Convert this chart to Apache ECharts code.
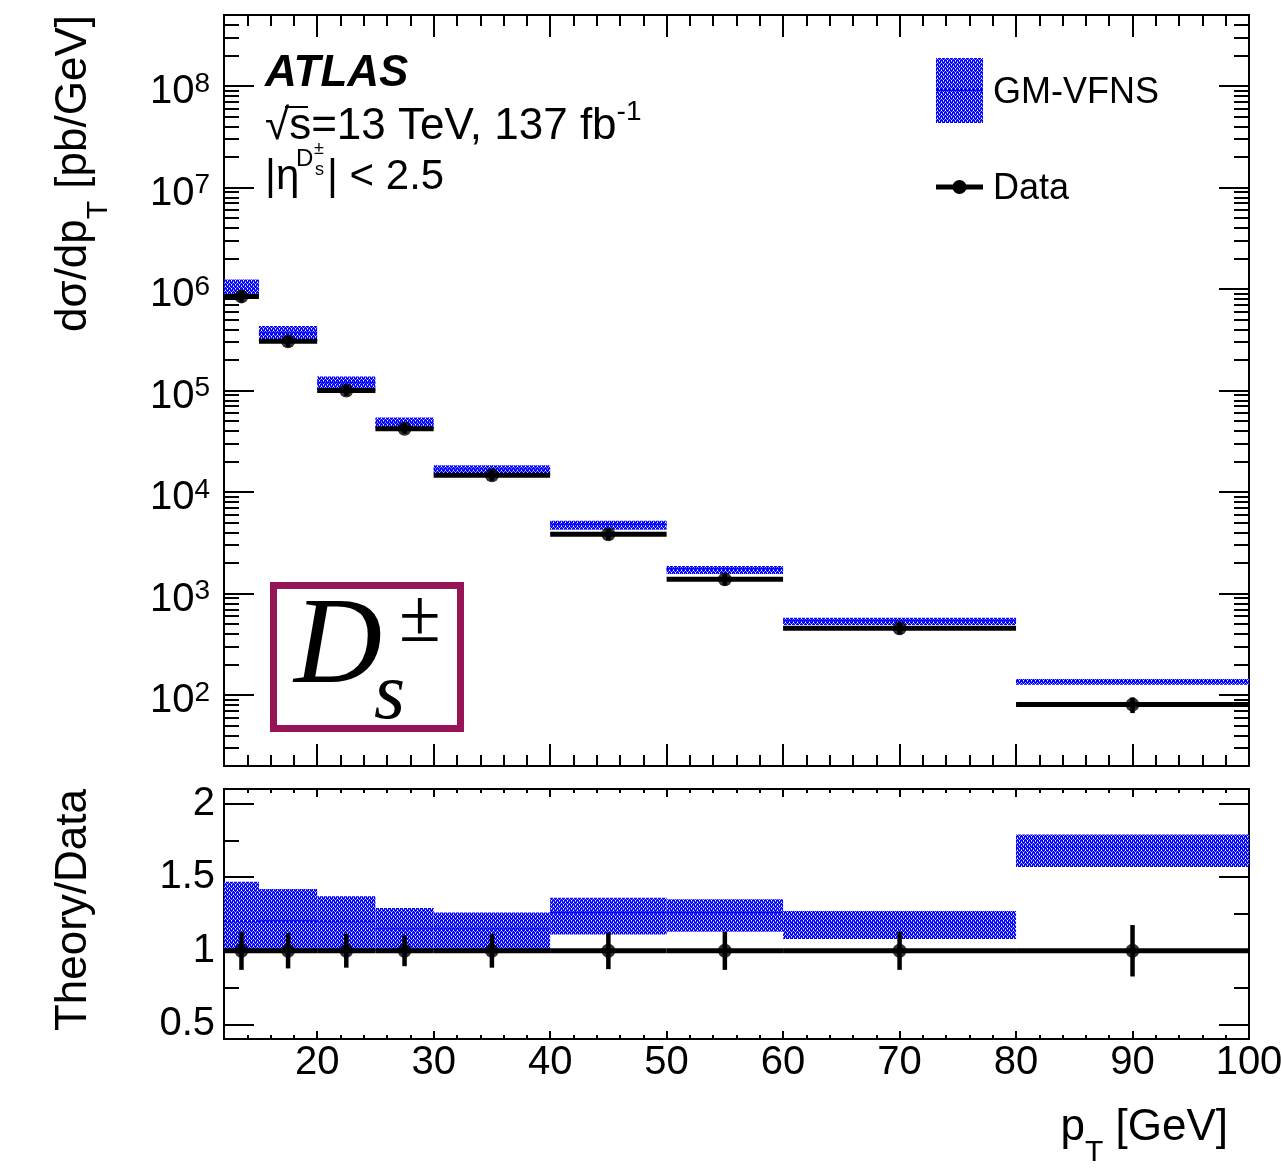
<!DOCTYPE html>
<html><head><meta charset="utf-8">
<script src="https://cdn.jsdelivr.net/npm/echarts@6/dist/echarts.min.js"></script>
<style>html,body{margin:0;padding:0;background:#fff}#c{width:1281px;height:1168px}</style>
</head><body><div id="c"></div>
<script>
// ---------------- data ----------------
const binLo      = [12, 15, 20, 25, 30, 40, 50, 60, 80];
const binHi      = [15, 20, 25, 30, 40, 50, 60, 80, 100];
const binCenter  = [13.5, 17.5, 22.5, 27.5, 35, 45, 55, 70, 90];
const dataValue  = [8.45e5, 3.05e5, 1.0e5, 4.2e4, 1.46e4, 3.84e3, 1.38e3, 454, 80.5];
const dataRelErr = [0.13, 0.12, 0.115, 0.105, 0.115, 0.125, 0.13, 0.13, 0.175];
const theoryLo   = [8.45e5, 3.05e5, 1.0e5, 4.2e4, 1.46e4, 4.26e3, 1.56e3, 490, 126.4];
const theoryHi   = [1.242e6, 4.33e5, 1.37e5, 5.42e4, 1.84e4, 5.22e3, 1.863e3, 577, 144.1];
const theoryMid  = [1.01e6, 3.66e5, 1.2e5, 4.83e4, 1.68e4, 4.84e3, 1.74e3, 540, 137];
const ratioLo    = [1.0, 1.0, 1.0, 1.0, 1.0, 1.11, 1.13, 1.08, 1.57];
const ratioHi    = [1.47, 1.42, 1.37, 1.29, 1.26, 1.36, 1.35, 1.27, 1.79];
const ratioMid   = [1.20, 1.20, 1.20, 1.15, 1.15, 1.26, 1.26, 1.19, 1.70];
const xMajorTicks = [20, 30, 40, 50, 60, 70, 80, 90, 100];
const xMinorTicks = [14, 16, 18, 22, 24, 26, 28, 32, 34, 36, 38, 42, 44, 46, 48, 52, 54, 56, 58,
                     62, 64, 66, 68, 72, 74, 76, 78, 82, 84, 86, 88, 92, 94, 96, 98];
const yTopExponents = [2, 3, 4, 5, 6, 7, 8];
const yTopMinorMult = [2, 3, 4, 5, 6, 7, 8, 9];
const yRatioMajor = [0.5, 1, 1.5, 2];
const yRatioMinor = [0.75, 1.25, 1.75];

// ---------------- helpers ----------------
const FONT = '"Liberation Sans", Arial, Helvetica, sans-serif';
const SERIF = '"Liberation Serif", "Times New Roman", serif';
function makePattern() {
  const rows = ['BBBW', 'BLBL', 'BWBB', 'LBLB'];
  const c = document.createElement('canvas'); c.width = 4; c.height = 4;
  const ctx = c.getContext('2d');
  const col = {B: '#0000ff', L: '#8080ff', W: '#ffffff'};
  rows.forEach((r, y) => { for (let x = 0; x < 4; x++) { ctx.fillStyle = col[r[x]]; ctx.fillRect(x, y, 1, 1); } });
  return c;
}
const pattern = {image: makePattern(), repeat: 'repeat'};

const yTopMajor = yTopExponents.map(e => Math.pow(10, e));
const yTopMinor = [];
for (let e = 1; e <= 8; e++) yTopMinorMult.forEach(m => { const v = m * Math.pow(10, e); if (v > 20 && v < 5e8) yTopMinor.push(v); });

function tickStyle(len, vals) {
  return {show: true, inside: true, length: len, customValues: vals, lineStyle: {color: '#000', width: 2}};
}
function xAx(grid, pos, vals, len, label) {
  return {type: 'value', gridIndex: grid, position: pos, min: 12, max: 100,
    axisLine: {show: false}, splitLine: {show: false}, axisTick: tickStyle(len, vals),
    axisLabel: label ? {show: true, customValues: xMajorTicks, margin: 4, color: '#000', fontSize: 40, fontFamily: FONT} : {show: false}};
}
function yLogAx(pos, vals, len, label) {
  return {type: 'log', logBase: 10, gridIndex: 0, position: pos, min: 20, max: 5e8,
    axisLine: {show: false}, splitLine: {show: false}, axisTick: tickStyle(len, vals),
    axisLabel: label ? {show: true, customValues: yTopMajor, margin: 14, color: '#000',
      formatter: v => '{b|10}{e|' + Math.round(Math.log10(v)) + '}',
      rich: {b: {fontSize: 40, fontFamily: FONT, color: '#000', lineHeight: 44, padding: [12, 0, 0, 0]},
             e: {fontSize: 28, fontFamily: FONT, color: '#000', lineHeight: 20, padding: [6, 0, 0, 0], verticalAlign: 'top'}}}
      : {show: false}};
}
function yRatAx(pos, vals, len, label) {
  return {type: 'value', gridIndex: 1, position: pos, min: 0.4, max: 2.1,
    axisLine: {show: false}, splitLine: {show: false}, axisTick: tickStyle(len, vals),
    axisLabel: label ? {show: true, customValues: yRatioMajor, margin: 9, color: '#000', fontSize: 40, fontFamily: FONT,
      formatter: v => String(v)} : {show: false}};
}

function bandRender(params, api) {
  const xl = api.value(0), xh = api.value(1), lo = api.value(2), hi = api.value(3), mid = api.value(4);
  const a = api.coord([xl, hi]), b = api.coord([xh, lo]);
  const m1 = api.coord([xl, mid]), m2 = api.coord([xh, mid]);
  return {type: 'group', children: [
    {type: 'rect', shape: {x: a[0], y: a[1], width: b[0] - a[0], height: b[1] - a[1]}, style: {fill: pattern}},
    {type: 'line', shape: {x1: m1[0], y1: m1[1], x2: m2[0], y2: m2[1]}, style: {stroke: '#0000ff', lineWidth: 2, lineDash: [2, 2]}}
  ]};
}
function dataRender(params, api) {
  const xl = api.value(0), xh = api.value(1), xc = api.value(2), v = api.value(3), el = api.value(4), eh = api.value(5);
  const p1 = api.coord([xl, v]), p2 = api.coord([xh, v]), e1 = api.coord([xc, el]), e2 = api.coord([xc, eh]);
  return {type: 'group', children: [
    {type: 'line', shape: {x1: p1[0], y1: p1[1], x2: p2[0], y2: p2[1]}, style: {stroke: '#000', lineWidth: 5}},
    {type: 'line', shape: {x1: e1[0], y1: e1[1], x2: e2[0], y2: e2[1]}, style: {stroke: '#000', lineWidth: 4.5}}
  ]};
}

const topBand = binLo.map((l, i) => [l, binHi[i], theoryLo[i], theoryHi[i], theoryMid[i]]);
const topData = binLo.map((l, i) => [l, binHi[i], binCenter[i], dataValue[i], dataValue[i] * (1 - dataRelErr[i]), dataValue[i] * (1 + dataRelErr[i])]);
const ratBand = binLo.map((l, i) => [l, binHi[i], ratioLo[i], ratioHi[i], ratioMid[i]]);
const ratData = binLo.map((l, i) => [l, binHi[i], binCenter[i], 1, 1 - dataRelErr[i], 1 + dataRelErr[i]]);

const chart = echarts.init(document.getElementById('c'), null, {renderer: 'canvas', width: 1281, height: 1168});
const gridCommon = {show: true, borderColor: '#000', borderWidth: 2, backgroundColor: 'transparent', containLabel: false, outerBoundsMode: 'none'};

const option = {
  animation: false,
  backgroundColor: '#fff',
  grid: [
    Object.assign({left: 224, top: 15, width: 1025, height: 751}, gridCommon),
    Object.assign({left: 224, top: 789, width: 1025, height: 250}, gridCommon)
  ],
  xAxis: [
    xAx(0, 'bottom', xMajorTicks, 22, false), xAx(0, 'bottom', xMinorTicks, 11, false),
    xAx(0, 'top', xMajorTicks, 22, false), xAx(0, 'top', xMinorTicks, 11, false),
    xAx(1, 'bottom', xMajorTicks, 8, true), xAx(1, 'bottom', xMinorTicks, 4, false),
    xAx(1, 'top', xMajorTicks, 8, false), xAx(1, 'top', xMinorTicks, 4, false)
  ],
  yAxis: [
    yLogAx('left', yTopMajor, 30, true), yLogAx('left', yTopMinor, 15, false),
    yLogAx('right', yTopMajor, 30, false), yLogAx('right', yTopMinor, 15, false),
    yRatAx('left', yRatioMajor, 30, true), yRatAx('left', yRatioMinor, 15, false),
    yRatAx('right', yRatioMajor, 30, false), yRatAx('right', yRatioMinor, 15, false)
  ],
  series: [
    {type: 'custom', xAxisIndex: 0, yAxisIndex: 0, renderItem: bandRender, data: topBand, z: 2},
    {type: 'custom', xAxisIndex: 0, yAxisIndex: 0, renderItem: dataRender, data: topData, z: 3},
    {type: 'scatter', xAxisIndex: 0, yAxisIndex: 0, symbol: 'circle', symbolSize: 14, itemStyle: {color: '#000'},
     data: binCenter.map((c, i) => [c, dataValue[i]]), z: 4},
    {type: 'custom', xAxisIndex: 4, yAxisIndex: 4, renderItem: bandRender, data: ratBand, z: 2},
    {type: 'custom', xAxisIndex: 4, yAxisIndex: 4, renderItem: dataRender, data: ratData, z: 3},
    {type: 'scatter', xAxisIndex: 4, yAxisIndex: 4, symbol: 'circle', symbolSize: 14, itemStyle: {color: '#000'},
     data: binCenter.map(c => [c, 1]), z: 4}
  ],
  graphic: [
    // axis titles
    {type: 'text', x: 52, y: 15, rotation: Math.PI / 2, style: {
      text: '{a|dσ/dp}{s|T}{a| [pb/GeV]}', align: 'right', verticalAlign: 'top',
      rich: {a: {fontSize: 44, fontFamily: FONT, fill: '#000', lineHeight: 44, verticalAlign: 'top'},
             s: {fontSize: 30, fontFamily: FONT, fill: '#000', lineHeight: 30, padding: [32, 0, 0, 0], verticalAlign: 'top'}}}},
    {type: 'text', x: 52, y: 789, rotation: Math.PI / 2, style: {
      text: 'Theory/Data', align: 'right', verticalAlign: 'top', font: '44px ' + FONT, fill: '#000', lineHeight: 44}},
    {type: 'text', x: 1228, y: 1106, style: {
      text: '{a|p}{s|T}{a| [GeV]}', align: 'right', verticalAlign: 'top',
      rich: {a: {fontSize: 44, fontFamily: FONT, fill: '#000', lineHeight: 44, verticalAlign: 'top'},
             s: {fontSize: 30, fontFamily: FONT, fill: '#000', lineHeight: 30, padding: [32, 0, 0, 0], verticalAlign: 'top'}}}},
    // ATLAS label
    {type: 'text', x: 265, y: 74, style: {text: 'ATLAS', font: 'italic bold 44px ' + FONT, fill: '#000', align: 'left', verticalAlign: 'middle'}},
    {type: 'text', x: 265, y: 127, style: {
      text: '{a|√s=13 TeV, 137 fb}{e|-1}', align: 'left', verticalAlign: 'middle',
      rich: {a: {fontSize: 44, fontFamily: FONT, fill: '#000', lineHeight: 58},
             e: {fontSize: 28, fontFamily: FONT, fill: '#000', lineHeight: 20, verticalAlign: 'top'}}}},
    {type: 'line', shape: {x1: 285, y1: 107, x2: 308, y2: 107}, style: {stroke: '#000', lineWidth: 2}},
    {type: 'text', x: 265, y: 177, style: {text: '|η', font: '42px ' + FONT, fill: '#000', align: 'left', verticalAlign: 'middle'}},
    {type: 'text', x: 296, y: 159, style: {text: 'D', font: '24px ' + FONT, fill: '#000', align: 'left', verticalAlign: 'middle'}},
    {type: 'text', x: 314, y: 149, style: {text: '±', font: '18px ' + FONT, fill: '#000', align: 'left', verticalAlign: 'middle'}},
    {type: 'text', x: 315, y: 170, style: {text: 's', font: '18px ' + FONT, fill: '#000', align: 'left', verticalAlign: 'middle'}},
    {type: 'text', x: 327, y: 177, style: {text: '| < 2.5', font: '42px ' + FONT, fill: '#000', align: 'left', verticalAlign: 'middle'}},
    // legend
    {type: 'rect', shape: {x: 936, y: 58, width: 47, height: 65}, style: {fill: pattern}},
    {type: 'line', shape: {x1: 936, y1: 90, x2: 983, y2: 90}, style: {stroke: '#0000ff', lineWidth: 2, lineDash: [2, 2]}},
    {type: 'text', x: 993, y: 93, style: {text: 'GM-VFNS', font: '36px ' + FONT, fill: '#000', align: 'left', verticalAlign: 'middle'}},
    {type: 'line', shape: {x1: 936, y1: 187, x2: 983, y2: 187}, style: {stroke: '#000', lineWidth: 5}},
    {type: 'circle', shape: {cx: 959.5, cy: 187, r: 7}, style: {fill: '#000'}},
    {type: 'text', x: 993, y: 189, style: {text: 'Data', font: '36px ' + FONT, fill: '#000', align: 'left', verticalAlign: 'middle'}},
    // D_s box
    {type: 'rect', shape: {x: 273.5, y: 585.5, width: 187, height: 143}, style: {fill: '#fff', stroke: '#961556', lineWidth: 7}},
    {type: 'text', x: 294, y: 650, style: {text: 'D', font: 'italic 122px ' + SERIF, fill: '#000', align: 'left', verticalAlign: 'middle'}},
    {type: 'text', x: 399, y: 621, style: {text: '±', font: '76px ' + SERIF, fill: '#000', align: 'left', verticalAlign: 'middle'}},
    {type: 'text', x: 374, y: 697, style: {text: 's', font: 'italic 80px ' + SERIF, fill: '#000', align: 'left', verticalAlign: 'middle'}}
  ]
};
chart.setOption(option);
</script>
</body></html>
